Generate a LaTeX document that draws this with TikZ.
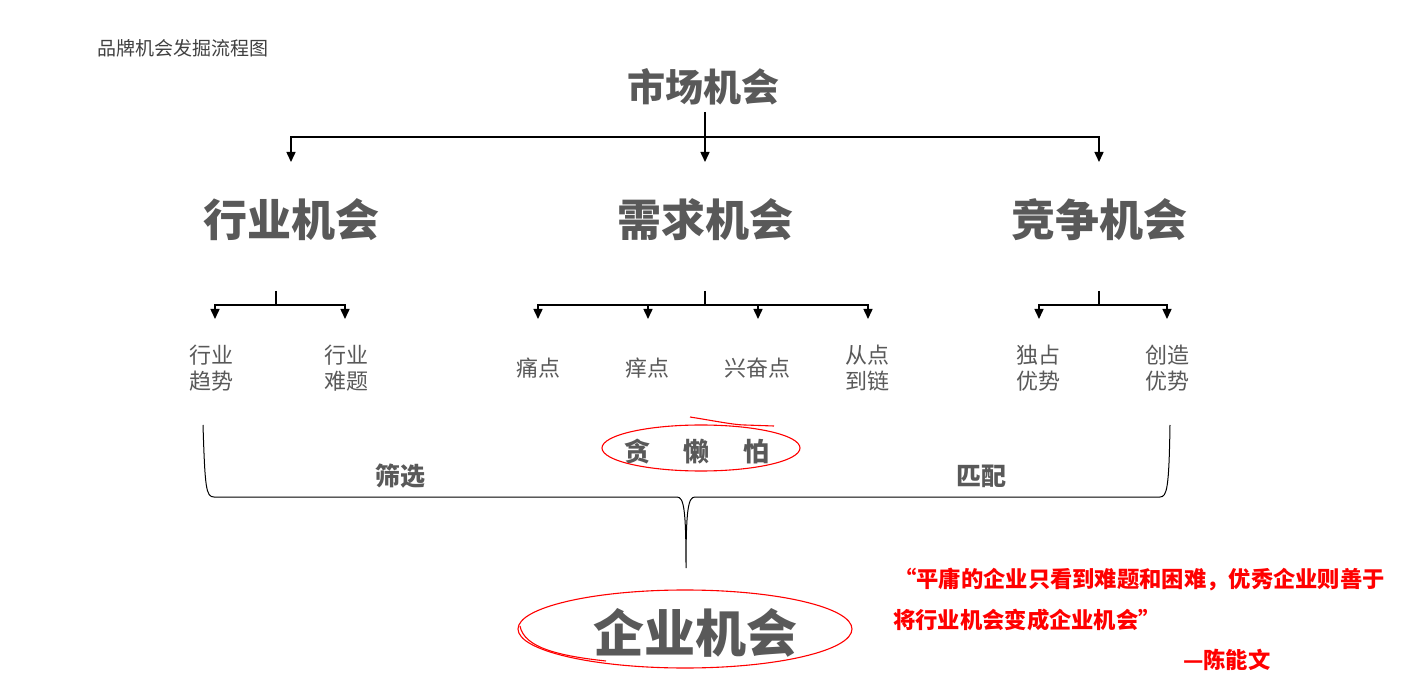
\documentclass[tikz,border=0pt]{standalone}
\usepackage{fontspec}
\setmainfont{Noto Sans CJK SC}
\usetikzlibrary{arrows.meta}
\definecolor{txtgray}{HTML}{595959}
\definecolor{ttlgray}{HTML}{404040}
\definecolor{hand}{HTML}{FF0000}
\begin{document}
\begin{tikzpicture}[x=1pt,y=-1pt,
  ttl/.style={font=\fontsize{19}{22}\selectfont, text=ttlgray, inner sep=0pt},
  topnode/.style={font=\bfseries\fontsize{38}{44}\selectfont, text=txtgray, inner sep=0pt},
  midnode/.style={font=\bfseries\fontsize{44}{50}\selectfont, text=txtgray, inner sep=0pt},
  bignode/.style={font=\bfseries\fontsize{51}{58}\selectfont, text=txtgray, inner sep=0pt},
  leaf/.style={font=\fontsize{22}{26}\selectfont, text=txtgray, align=center, inner sep=0pt},
  lbl/.style={font=\bfseries\fontsize{25}{30}\selectfont, text=txtgray, inner sep=0pt},
  quote/.style={font=\bfseries\fontsize{22.3}{26}\selectfont, text=hand, inner sep=0pt, anchor=west},
  ln/.style={line width=1.5pt, black},
  arr/.style={line width=1.5pt, black, -{Triangle[width=9pt,length=10pt]}},
  bracestyle/.style={line width=1pt, black},
  handline/.style={line width=1.1pt, hand},
]
\useasboundingbox (0,0) rectangle (1417,700);

% title
\node[ttl] (t) at (183,48) {品牌机会发掘流程图};

% main nodes
\node[topnode] (m) at (703,87) {市场机会};
\node[midnode] (n1) at (291,220) {行业机会};
\node[midnode] (n2) at (705,220) {需求机会};
\node[midnode] (n3) at (1099,220) {竞争机会};

% leaves
\node[leaf] (l1) at (211,368) {行业\\趋势};
\node[leaf] (l2) at (346,368) {行业\\难题};
\node[leaf] (l3) at (538,368) {痛点};
\node[leaf] (l4) at (647,368) {痒点};
\node[leaf] (l5) at (757,368) {兴奋点};
\node[leaf] (l6) at (867,368) {从点\\到链};
\node[leaf] (l7) at (1038,368) {独占\\优势};
\node[leaf] (l8) at (1167,368) {创造\\优势};

% top tree
\coordinate (s0) at (705,112);
\coordinate (b0) at (705,137);
\coordinate (e1) at (291,162);
\coordinate (e2) at (705,162);
\coordinate (e3) at (1099,162);
\draw[arr] (s0) -- (e2);
\draw[arr] (b0) -| (e1);
\draw[arr] (b0) -| (e3);

% sub tree 1
\coordinate (c1) at (276,291);
\coordinate (d1) at (276,305);
\coordinate (p1) at (215,319);
\coordinate (p2) at (345,319);
\draw[ln] (c1) -- (d1);
\draw[arr] (d1) -| (p1);
\draw[arr] (d1) -| (p2);

% sub tree 2
\coordinate (c2) at (705,291);
\coordinate (d2) at (705,305);
\coordinate (p3) at (538,319);
\coordinate (p4) at (648,319);
\coordinate (p5) at (758,319);
\coordinate (p6) at (868,319);
\draw[ln] (c2) -- (d2);
\draw[arr] (d2) -| (p3);
\draw[arr] (d2) -| (p6);
\draw[arr] (p4 |- d2) -- (p4);
\draw[arr] (p5 |- d2) -- (p5);

% sub tree 3
\coordinate (c3) at (1099,291);
\coordinate (d3) at (1099,305);
\coordinate (p7) at (1039,319);
\coordinate (p8) at (1167,319);
\draw[ln] (c3) -- (d3);
\draw[arr] (d3) -| (p7);
\draw[arr] (d3) -| (p8);

% brace
\coordinate (bl) at (203,425);
\coordinate (br) at (1170,425);
\coordinate (tip) at (686,568);
\draw[bracestyle] (bl) .. controls (205,488) and (206,497) .. (214,497)
  -- (677,497) .. controls (684,497) and (686,510) .. (tip)
  .. controls (686,510) and (688,497) .. (695,497)
  -- (1160,497) .. controls (1167,497) and (1169,488) .. (br);

% brace labels
\node[lbl] (s1) at (400,476) {筛选};
\node[lbl] (s2) at (981,476) {匹配};
\node[lbl, font=\bfseries\fontsize{26}{30}\selectfont] (g) at (697,452) {贪\hspace{34pt}懒\hspace{34pt}怕};

% hand ellipse around g
\draw[handline] (701,448) ellipse [x radius=99, y radius=23];
\draw[handline] (690,417) .. controls (715,421) and (735,425) .. (745,425) -- (774,426);

% bottom node
\node[bignode] (b) at (695,633) {企业机会};
\draw[handline] (685,629) ellipse [x radius=167, y radius=39];
\draw[handline] (520,626) .. controls (524,648) and (560,656) .. (606,661);

% quote
\node[quote] (q1) at (894,580) {“平庸的企业只看到难题和困难，优秀企业则善于};
\node[quote] (q2) at (893,620) {将行业机会变成企业机会”};
\node[quote] (q3) at (1183,660) {—陈能文};
\end{tikzpicture}
\end{document}
